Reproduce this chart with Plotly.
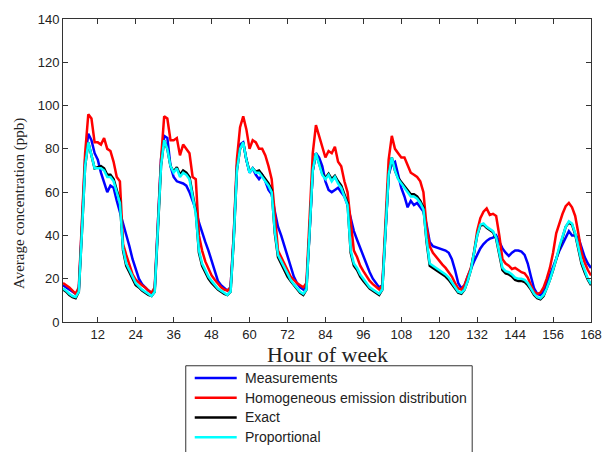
import plotly.graph_objects as go

hours = list(range(1, 169))

measurements = [
    17, 16, 15, 14, 13, 15, 45, 75, 87, 84, 78, 75, 69, 65, 60, 63, 62, 56, 51, 45, 40, 35, 29, 24,
    20, 17.5, 16, 14.5, 13.5, 15, 45, 75, 86, 85, 72, 67, 65, 64.5, 64, 63, 60, 56, 52, 46, 41, 37, 33, 28,
    23, 19, 17, 15.5, 14.5, 16, 40, 72, 82, 83, 75, 69, 71, 68, 66, 68, 65, 61, 59, 51, 44, 40, 35, 30,
    25, 21, 18, 16, 15, 17, 42, 70, 78, 76, 72, 65, 61, 60, 61, 62, 60, 58, 54, 48, 42, 38, 34, 30,
    26, 23, 20, 18, 16, 17, 42, 68, 73, 74, 68, 62, 58, 53, 56, 54, 55, 53, 51, 45, 37, 35, 34.5, 34,
    33.5, 33, 32, 29, 24, 18, 15.5, 17, 21, 25, 28, 31, 34, 36, 37.5, 38.5, 39, 40, 37, 34, 32, 30.5, 32, 33,
    33, 32.5, 31, 27, 21, 15.5, 13, 12.5, 14, 18, 22, 26, 30, 33, 36, 39, 42, 40, 40, 39, 34, 30, 27, 25,
]

homogeneous = [
    18, 17, 16, 14.5, 13, 16, 45, 78, 96, 94, 83, 83, 82, 85, 80, 79, 74, 67, 65, 36, 31, 26, 22, 19.5,
    18, 17, 16, 14.5, 13.5, 16, 45, 75, 95, 94, 84, 84, 85, 77, 82, 80, 78, 67, 66, 40, 33, 28, 25, 21.5,
    19.5, 17.5, 16, 15, 14.5, 16, 40, 75, 90, 95, 89, 80, 84, 83, 80, 80, 77, 72, 66, 50, 33, 30, 27, 24,
    21, 19.5, 18, 17, 16, 18, 45, 78, 91, 86, 80, 76, 79, 78, 81, 74, 72, 65, 60, 45, 33, 30, 26, 23.5,
    21, 19, 17.5, 16, 15, 17, 45, 75, 86, 80, 78, 76, 76, 72, 69, 68, 67, 65, 60, 44, 35, 32, 30, 28,
    26.5, 25, 23, 21, 18, 15.5, 15, 17, 21, 25, 32, 42, 48, 51, 52.5, 49.5, 50, 49, 40, 29, 27, 26, 24.5, 25,
    24, 23, 22.5, 20.5, 17, 14, 13, 13.5, 16, 20, 25, 32, 41, 46, 50, 53.5, 55, 53, 49, 41, 32, 27.5, 24, 21.5,
]

exact = [
    15, 14, 12.5, 11.5, 11, 14, 42, 72, 83, 77, 71, 71.5, 72, 71, 68, 68, 66, 61, 56, 33, 26, 23, 20, 17,
    16, 14.5, 13.5, 12.5, 12, 14, 42, 72, 84, 80, 72, 69.5, 71.5, 68, 70, 69, 67, 59, 51, 32, 26, 23, 20, 18,
    16.5, 15, 14, 13, 12.5, 14, 38, 70, 80, 83, 75, 69.5, 71, 69.5, 70, 68, 66, 64, 61, 41, 30, 27, 24, 21,
    19, 17, 15, 13.5, 12.5, 15, 42, 70, 78, 73, 68.5, 66.5, 68.5, 66, 67.5, 65, 63, 59, 55, 32, 26, 24, 21, 19,
    17, 15.5, 14.5, 13.5, 12.5, 15, 42, 68, 76, 70, 66.5, 64.5, 62.5, 61, 59, 59, 58, 56, 53, 37, 26, 25, 24, 23,
    22, 21, 19.5, 17.5, 15.5, 13.5, 13, 15, 19, 24, 32, 40, 44.5, 45, 43.5, 42.5, 41.5, 38.5, 31, 24, 22.5, 22, 21, 19.5,
    19, 19, 18.5, 17, 15, 12.5, 11, 10.5, 12, 15.5, 19.5, 24, 29, 35, 40, 44, 46, 45, 40.5, 34, 27, 23, 19.5, 17,
]

proportional = [
    15.5, 14.5, 13, 12, 11.5, 14, 42, 72, 83, 77, 71, 71, 71, 70, 67, 67, 65, 60, 55, 34, 27, 24, 21, 18,
    16.5, 15, 14, 13, 12, 14, 42, 72, 84, 80, 72, 69, 71, 67, 69, 68, 66, 58, 50, 33, 27, 24, 21, 19,
    17, 15.5, 14.5, 13.5, 12.5, 14, 38, 70, 80, 83, 75, 69, 71, 69, 69, 67, 65, 63, 60, 42, 31, 28, 25, 22,
    19.5, 17.5, 15.5, 14, 13, 15, 42, 70, 78, 73, 68, 66, 68, 65, 67, 64, 62, 58, 54, 33, 27, 25, 22, 20,
    18, 16, 15, 14, 13, 15, 42, 68, 76, 70, 66, 64, 62, 60, 58, 58, 57, 55, 52, 38, 27, 26, 25, 24,
    23, 22, 20.5, 18.5, 16, 14, 13.5, 15, 19, 24, 32, 40, 45, 45.5, 44, 43, 42, 39, 32, 25, 23.5, 23, 22, 20.5,
    20, 20, 19.5, 18, 15.5, 13, 11.5, 11, 12.5, 15.5, 19.5, 24, 29, 35, 40, 44, 46.5, 45.5, 41, 35, 28, 24, 20, 17.5,
]

series = [
    ("Measurements", measurements, "#0000ff"),
    ("Homogeneous emission distribution", homogeneous, "#ff0000"),
    ("Exact", exact, "#000000"),
    ("Proportional", proportional, "#00ffff"),
]

fig = go.Figure()

# legend is drawn by hand below the axes (plotly's own legend there pushes the margins)
leg_rows = [-0.1845, -0.2498, -0.315, -0.380]
fig.add_shape(type="rect", xref="paper", yref="paper", x0=0.2325, x1=0.775, y0=-0.1444, y1=-0.46,
              line=dict(color="#333", width=1), fillcolor="white", layer="above")

for (name, vals, col), ly in zip(series, leg_rows):
    fig.add_trace(go.Scatter(x=hours, y=vals, mode="lines", name=name,
                             line=dict(color=col, width=2.5)))
    fig.add_shape(type="line", xref="paper", yref="paper", x0=0.2495, x1=0.329, y0=ly, y1=ly,
                  line=dict(color=col, width=2.5))
    fig.add_annotation(text=name, xref="paper", yref="paper", x=0.3403, y=ly,
                       xanchor="left", yanchor="middle", showarrow=False,
                       font=dict(family="Liberation Sans", size=14, color="#222"))

axis_style = dict(showline=True, linecolor="#333", linewidth=1, mirror="ticks",
                  ticks="inside", ticklen=5, tickcolor="#333", showgrid=False,
                  zeroline=False, tickfont=dict(family="Liberation Sans", size=13, color="#222"))

fig.update_xaxes(range=[1, 168], tickvals=list(range(12, 169, 12)), **axis_style)
fig.update_yaxes(range=[0, 140], tickvals=list(range(0, 141, 20)), **axis_style)

fig.update_layout(
    width=614, height=452,
    margin=dict(l=63, r=22, t=15, b=130),
    plot_bgcolor="white", paper_bgcolor="white",
    showlegend=False,
)

fig.add_annotation(text="Hour of week", xref="paper", yref="paper", x=0.5, y=-0.108,
                   showarrow=False, yanchor="middle",
                   font=dict(family="Liberation Serif", size=22, color="#222"))
fig.add_annotation(text="Average concentration (ppb)", xref="paper", yref="paper", x=-0.081, y=0.39,
                   showarrow=False, textangle=-90, xanchor="center", yanchor="middle",
                   font=dict(family="Liberation Serif", size=15, color="#222"))

# page body has a default margin; drop it so the figure sits at the window origin
fig.write_html("out.html", config={"displayModeBar": False},
               post_script="document.body.style.margin='0';document.body.style.padding='0';")
